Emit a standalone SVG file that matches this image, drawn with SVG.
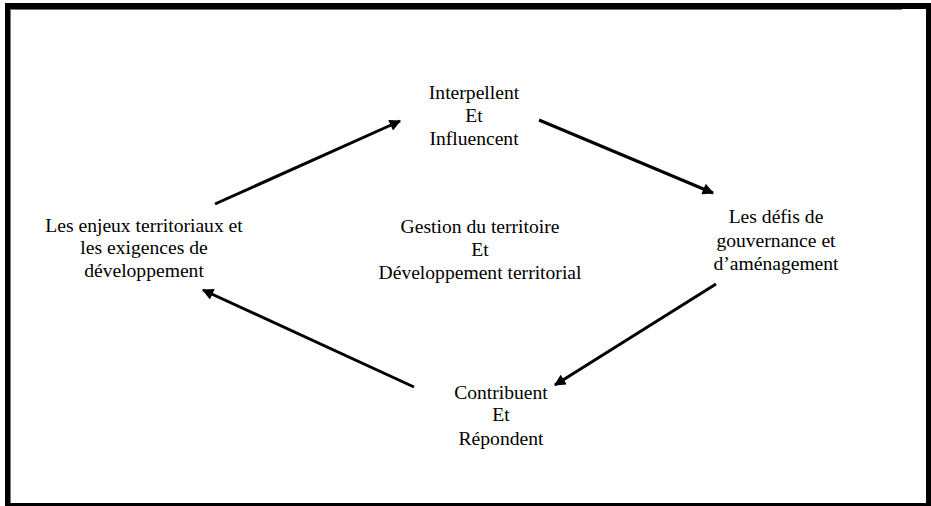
<svg xmlns="http://www.w3.org/2000/svg" width="931" height="506" viewBox="0 0 931 506">
<style>
.t{font-family:"Liberation Serif","Times New Roman",serif;font-size:19.6px;fill:#000;text-anchor:middle}
.c{stroke:#000;stroke-width:3;fill:none;marker-end:url(#ah)}
</style>
<defs>
<marker id="ah" viewBox="0 0 10 10" refX="9" refY="5" markerWidth="4.3" markerHeight="3.8" orient="auto" markerUnits="strokeWidth">
<path d="M0,0 L10,5 L0,10 z" fill="#000"/>
</marker>
</defs>
<rect width="931" height="506" fill="#fff"/>
<g id="frame">
<rect x="5" y="3" width="926" height="6" fill="#000"/>
<rect x="5" y="3" width="5" height="503" fill="#000"/>
<rect x="926" y="9" width="5" height="497" fill="#000"/>
<rect x="5" y="503" width="926" height="3" fill="#000"/>
<line x1="10" y1="9.5" x2="902" y2="9.5" stroke="#777" stroke-width="1"/>
<line x1="10.5" y1="9" x2="10.5" y2="503" stroke="#777" stroke-width="1"/>
</g>
<g id="connectors">
<line class="c" x1="215" y1="204" x2="400" y2="121"/>
<line class="c" x1="539" y1="120" x2="713" y2="193"/>
<line class="c" x1="716" y1="284" x2="555" y2="385"/>
<line class="c" x1="414" y1="387" x2="203" y2="290"/>
</g>
<g id="top">
<text class="t" x="474" y="99">Interpellent</text>
<text class="t" x="474" y="122">Et</text>
<text class="t" x="474" y="145">Influencent</text>
</g>
<g id="left">
<text class="t" x="144" y="232">Les enjeux territoriaux et</text>
<text class="t" x="144" y="254">les exigences de</text>
<text class="t" x="144" y="277">développement</text>
</g>
<g id="center">
<text class="t" x="480" y="233">Gestion du territoire</text>
<text class="t" x="480" y="256">Et</text>
<text class="t" x="480" y="279">Développement territorial</text>
</g>
<g id="right">
<text class="t" x="776" y="223">Les défis de</text>
<text class="t" x="776" y="247">gouvernance et</text>
<text class="t" x="776" y="270">d’aménagement</text>
</g>
<g id="bottom">
<text class="t" x="501" y="399">Contribuent</text>
<text class="t" x="501" y="421">Et</text>
<text class="t" x="501" y="445">Répondent</text>
</g>
</svg>
